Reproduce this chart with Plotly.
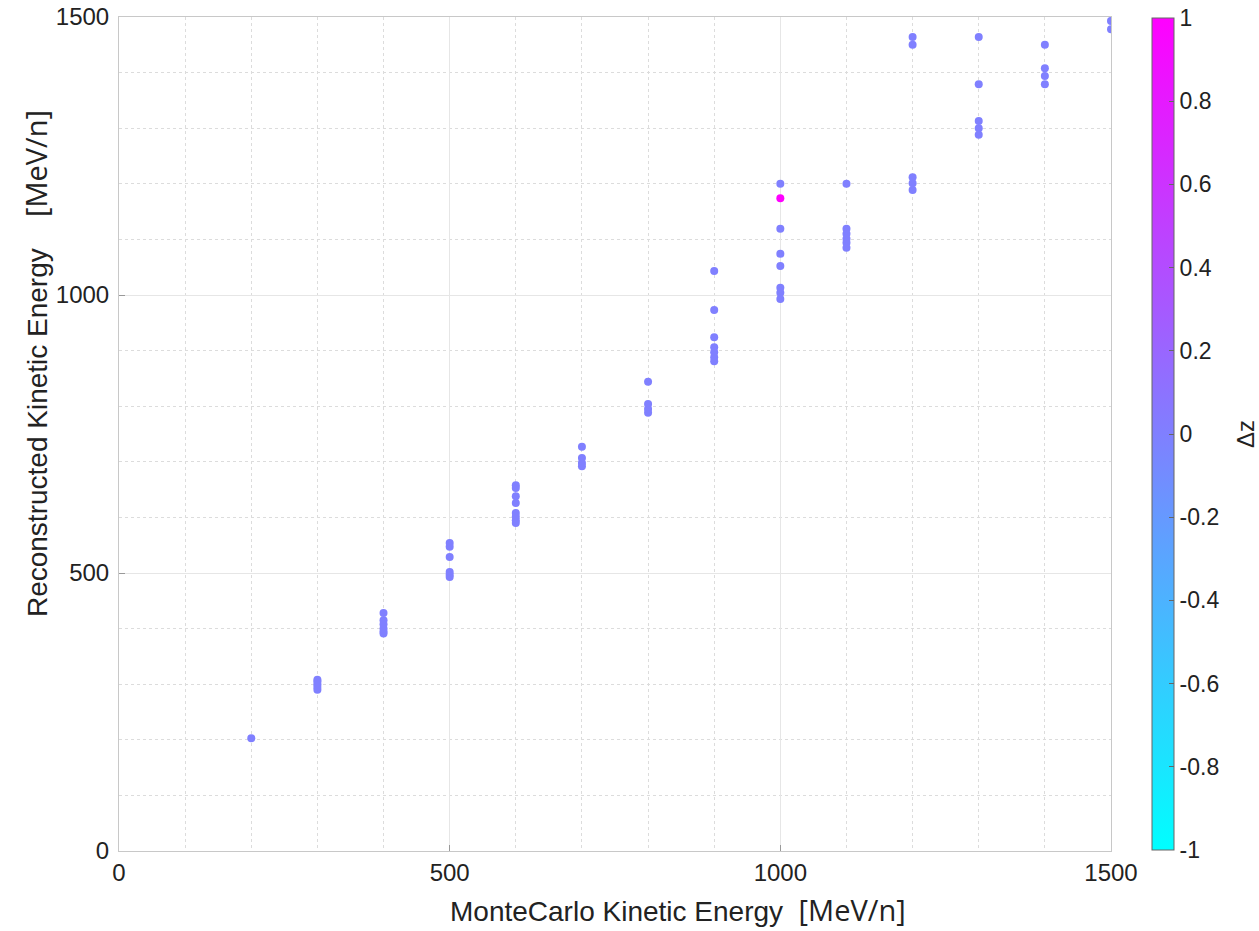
import plotly.graph_objects as go

mc_energy = [200,
             300, 300, 300, 300, 300,
             400, 400, 400, 400, 400, 400,
             500, 500, 500, 500, 500, 500,
             600, 600, 600, 600, 600, 600, 600, 600,
             700, 700, 700, 700,
             800, 800, 800, 800,
             900, 900, 900, 900, 900, 900, 900,
             1000, 1000, 1000, 1000, 1000, 1000, 1000, 1000,
             1100, 1100, 1100, 1100, 1100, 1100,
             1200, 1200, 1200, 1200, 1200,
             1300, 1300, 1300, 1300, 1300,
             1400, 1400, 1400, 1400,
             1500, 1500]
reco_energy = [203,
               290, 295, 300, 305, 308,
               428, 415, 408, 400, 395, 391,
               554, 547, 529, 502, 497, 493,
               658, 653, 638, 626, 608, 601, 595, 590,
               727, 707, 698, 692,
               844, 804, 795, 788,
               1043, 973, 924, 906, 897, 888, 881,
               1200, 1174, 1119, 1074, 1052, 1013, 1004, 993,
               1200, 1119, 1110, 1101, 1094, 1085,
               1464, 1450, 1212, 1201, 1189,
               1464, 1379, 1313, 1300, 1288,
               1450, 1408, 1394, 1379,
               1493, 1478]
delta_z = [0.0] * len(mc_energy)
delta_z[mc_energy.index(1000) + 1] = 1.0

cbar_ticks = [-1, -0.8, -0.6, -0.4, -0.2, 0, 0.2, 0.4, 0.6, 0.8, 1]

FONT = "Liberation Sans, Arial"
UNIT = '<span style="font-family:Open Sans;font-size:29px">[MeV/n]</span>'

fig = go.Figure(go.Scatter(
    x=mc_energy, y=reco_energy, mode="markers",
    marker=dict(
        size=8, color=delta_z, cmin=-1, cmax=1,
        colorscale=[[0, "rgb(0,255,255)"], [1, "rgb(255,0,255)"]],
        showscale=True,
        colorbar=dict(
            x=1.0413, xanchor="left", xref="paper",
            y=0.5, yanchor="middle", len=0.9976, lenmode="fraction",
            thickness=22, outlinecolor="#666", outlinewidth=1,
            tickvals=cbar_ticks, ticktext=[f"{t:g}" for t in cbar_ticks],
            ticks="inside", ticklen=5, tickcolor="#666",
            tickfont=dict(family=FONT, size=23, color="#222"),
            xpad=0, ypad=0,
        ),
        line=dict(width=0),
    ),
    showlegend=False,
))

axis_common = dict(
    range=[0, 1500], tickvals=[0, 500, 1000, 1500],
    showgrid=True, gridcolor="#e6e6e6", gridwidth=1,
    minor=dict(dtick=100, showgrid=True, gridcolor="#dcdcdc", griddash="dot", gridwidth=1),
    showline=True, linecolor="#c8c8c8", linewidth=1, mirror=True,
    ticks="inside", ticklen=6, tickcolor="#999",
    zeroline=False,
    tickfont=dict(family=FONT, size=24, color="#222"),
)

fig.update_layout(
    width=1259, height=931,
    margin=dict(l=119, r=148, t=17, b=80, autoexpand=False),
    paper_bgcolor="white", plot_bgcolor="white",
    xaxis=dict(**axis_common),
    yaxis=dict(**axis_common, ticklabelstandoff=4),
    annotations=[
        dict(text="MonteCarlo Kinetic Energy  " + UNIT, xref="paper", yref="paper",
             x=0.5635, y=-0.0705, xanchor="center", yanchor="middle", showarrow=False,
             font=dict(family=FONT, size=28, color="#222")),
        dict(text="Reconstructed Kinetic Energy    " + UNIT, textangle=-90, xref="paper", yref="paper",
             x=-0.0847, y=0.585, xanchor="center", yanchor="middle", showarrow=False,
             font=dict(family=FONT, size=28, color="#222")),
        dict(text="Δz", textangle=-90, xref="paper", yref="paper",
             x=1.135, y=0.5, xanchor="center", yanchor="middle", showarrow=False,
             font=dict(family=FONT, size=24, color="#222")),
    ],
)

fig.write_html("out.html")
